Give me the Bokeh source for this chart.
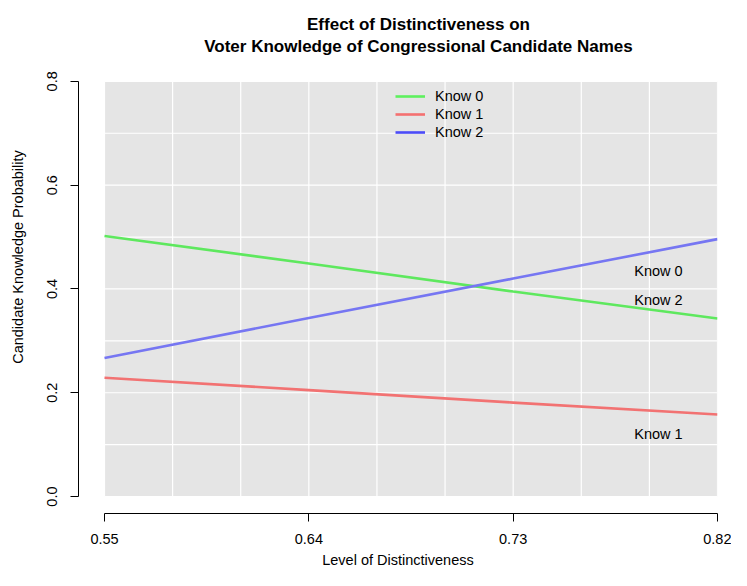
import numpy as np
from bokeh.plotting import figure
from bokeh.models import (Range1d, FixedTicker, PrintfTickFormatter, Label,
                          Legend, LegendItem, ColumnDataSource)
from bokeh.core.properties import value
from bokeh.embed import file_html
from bokeh.resources import INLINE

# ---- data ----
distinct = [0.55, 0.64, 0.73, 0.82]
know0 = [0.502, 0.449, 0.395, 0.343]
know1 = [0.229, 0.205, 0.181, 0.158]
know2 = [0.267, 0.344, 0.420, 0.496]

x_ticks = [0.55, 0.64, 0.73, 0.82]
y_ticks = [0.0, 0.2, 0.4, 0.6, 0.8]
x_grid = [0.55, 0.58, 0.61, 0.64, 0.67, 0.70, 0.73, 0.76, 0.79, 0.82]
y_grid = [0.0, 0.1, 0.2, 0.3, 0.4, 0.5, 0.6, 0.7, 0.8]

series_names = ["Know 0", "Know 1", "Know 2"]
label_x = [0.794, 0.794, 0.794]
label_y = [0.435, 0.121, 0.379]

title_lines = ["Effect of Distinctiveness on",
               "Voter Knowledge of Congressional Candidate Names"]

FONT = "Liberation Sans"
W, H = 731, 570
FL, FR, FB = 78, 717, 514          # frame left/right/bottom in canvas px
PX0, PY0, PY1 = 104, 497, 81       # pixels of x=0.55, y=0.0, y=0.8
X0, X1 = 0.55, 0.82
px_per_x = (FR - PX0) / (X1 - X0)
px_per_y = (PY0 - PY1) / 0.8

p = figure(width=W, height=H, output_backend="svg", toolbar_location=None,
           title=None,
           x_range=Range1d(X0 - (PX0 - FL) / px_per_x, X1),
           y_range=Range1d(-(FB - PY0) / px_per_y, 0.8 + PY1 / px_per_y),
           min_border_left=FL, min_border_right=W - FR,
           min_border_top=0, min_border_bottom=H - FB)
p.outline_line_color = None
p.background_fill_color = "white"
p.xgrid.visible = False
p.ygrid.visible = False

# panel
p.quad(left=[X0], right=[X1], bottom=[0.0], top=[0.8],
       fill_color="#e5e5e5", line_color=None)
# white grid
p.segment(x0=x_grid, x1=x_grid, y0=[0.0] * len(x_grid), y1=[0.8] * len(x_grid),
          line_color="white", line_width=1.2)
p.segment(x0=[X0] * len(y_grid), x1=[X1] * len(y_grid), y0=y_grid, y1=y_grid,
          line_color="white", line_width=1.2)

line_cols = ["#5ee85e", "#f27272", "#7676f2"]
leg_cols = ["#5ef05e", "#f47070", "#4c4cf8"]
for ys, c in zip([know0, know1, know2], line_cols):
    p.line(distinct, ys, line_color=c, line_width=2.6)

items = []
nan = float("nan")
for name, c in zip(series_names, leg_cols):
    r = p.line([nan, nan], [nan, nan], line_color=c, line_width=2.6)
    items.append(LegendItem(label=name, renderers=[r]))
leg = Legend(items=items, location=(395 - FL, FB - 142), padding=0, margin=0,
             spacing=0, glyph_width=30, glyph_height=18, label_height=18,
             label_standoff=10, label_text_font=FONT,
             label_text_font_size="14.5px", label_text_color="black",
             background_fill_alpha=0, border_line_alpha=0)
p.add_layout(leg, "center")

# in-plot labels
src = ColumnDataSource(dict(x=label_x, y=label_y, t=series_names))
p.text(x="x", y="y", text="t", source=src, text_font=value(FONT),
       text_font_size="14.5px", text_align="center", text_baseline="middle",
       text_color="black")

# title (screen units relative to the frame's bottom-left)
for base, txt in zip([25, 47], title_lines):
    p.add_layout(Label(x=418 - FL, y=FB - base, x_units="screen",
                       y_units="screen", text=txt, text_font=FONT,
                       text_font_size="17px", text_font_style="bold",
                       text_color="black",
                       text_align="center", text_baseline="alphabetic"))

# axes
xa = p.xaxis[0]
xa.ticker = FixedTicker(ticks=x_ticks)
xa.formatter = PrintfTickFormatter(format="%.2f")
xa.bounds = (X0, X1)
ya = p.yaxis[0]
ya.ticker = FixedTicker(ticks=y_ticks)
ya.formatter = PrintfTickFormatter(format="%.1f")
ya.bounds = (0.0, 0.8)
ya.major_label_orientation = "vertical"
for ax in (xa, ya):
    ax.axis_line_color = "black"
    ax.major_tick_line_color = "black"
    ax.major_tick_out = 8
    ax.major_tick_in = 0
    ax.minor_tick_line_color = None
    ax.major_label_text_font = FONT
    ax.major_label_text_font_size = "14.5px"
    ax.major_label_text_color = "black"
    ax.axis_label_text_font = FONT
    ax.axis_label_text_font_size = "14.5px"
    ax.axis_label_text_font_style = "normal"
    ax.axis_label_text_color = "black"
xa.axis_label = "Level of Distinctiveness"
ya.axis_label = "Candidate Knowledge Probability"
xa.major_label_standoff = 12
xa.axis_label_standoff = 5
ya.major_label_standoff = 13
ya.axis_label_standoff = 19

open("out.html", "w").write(file_html(p, INLINE))
